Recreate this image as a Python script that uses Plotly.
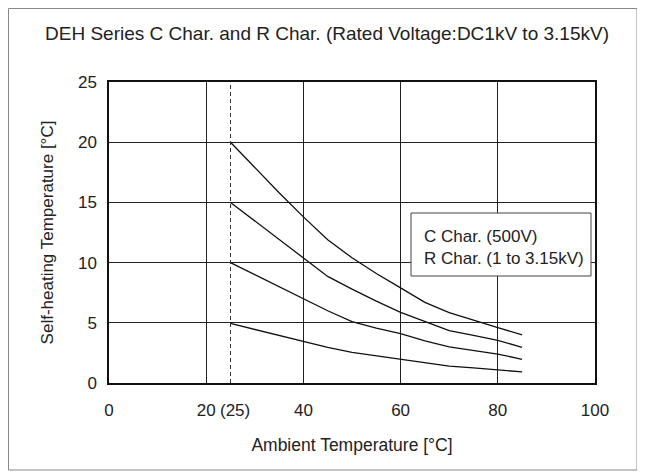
import plotly.graph_objects as go

# ---- data ----
ambient = [25, 30, 35, 40, 45, 50, 55, 60, 65, 70, 75, 80, 85]
curve_20 = [20.0, 17.9, 15.8, 13.8, 11.9, 10.4, 9.1, 7.9, 6.7, 5.85, 5.2, 4.6, 4.0]
curve_15 = [15.0, 13.45, 11.9, 10.35, 8.85, 7.8, 6.8, 5.87, 5.1, 4.35, 3.95, 3.55, 2.96]
curve_10 = [10.0, 9.0, 8.0, 7.0, 6.0, 5.1, 4.55, 4.1, 3.5, 3.0, 2.7, 2.4, 1.97]
curve_5 = [4.95, 4.45, 3.95, 3.45, 2.95, 2.55, 2.25, 1.95, 1.65, 1.4, 1.25, 1.1, 0.92]
rated_ambient = 25
x_ticks = [0, 20, 40, 60, 80, 100]
x_ticktext = ["0", "20", "40", "60", "80", "100"]
y_ticks = [0, 5, 10, 15, 20, 25]
title_text = "DEH Series C Char. and R Char. (Rated Voltage:DC1kV to 3.15kV)"
legend_text = "C Char. (500V)<br>R Char. (1 to 3.15kV)"

FONT = "Arial, 'Liberation Sans', sans-serif"
TXT = "#222222"

L, R, T, B = 101, 58, 74, 98
PW, PH = 645 - L - R, 473 - T - B


def px(xp):
    """figure pixel x -> paper x"""
    return (xp - L) / PW


def py(yp):
    """figure pixel y (from top) -> paper y"""
    return (T + PH - yp) / PH


fig = go.Figure()
for ys in [curve_20, curve_15, curve_10, curve_5]:
    fig.add_trace(go.Scatter(x=ambient, y=ys, mode="lines",
                             line=dict(color="#111111", width=1.3),
                             showlegend=False, hoverinfo="skip"))

fig.update_layout(
    width=645, height=473,
    margin=dict(l=L, r=R, t=T, b=B, autoexpand=False),
    paper_bgcolor="white", plot_bgcolor="white",
    font=dict(family=FONT, size=17, color=TXT),
    title=dict(text=title_text, x=319 / 645, xref="container", xanchor="center",
               y=1 - 25 / 473, yref="container", yanchor="middle",
               font=dict(size=19, family=FONT, color=TXT)),
    showlegend=False,
)
fig.update_xaxes(range=[0, 100], tickvals=x_ticks, ticktext=x_ticktext,
                 showgrid=True, gridcolor="#222222", gridwidth=1,
                 showline=True, linecolor="#111111", linewidth=1.5, mirror=True,
                 zeroline=False, ticks="", ticklabelstandoff=11,
                 title=dict(text="Ambient Temperature [°C]", standoff=20,
                            font=dict(size=17.5, color=TXT)),
                 tickfont=dict(size=17, color=TXT))
fig.update_yaxes(range=[0, 25], tickvals=y_ticks,
                 showgrid=True, gridcolor="#222222", gridwidth=1,
                 showline=True, linecolor="#111111", linewidth=1.5, mirror=True,
                 zeroline=False, ticks="", ticklabelstandoff=7,
                 title=dict(text="Self-heating Temperature [°C]", standoff=20,
                            font=dict(size=17, color=TXT)),
                 tickfont=dict(size=17, color=TXT))

# dashed reference line at rated ambient
fig.add_shape(type="line", xref="x", yref="y", x0=rated_ambient, x1=rated_ambient,
              y0=0, y1=25, line=dict(color="#333333", width=1, dash="4px,3px"))

# "(25)" label next to "20"
fig.add_annotation(xref="x", yref="paper", x=rated_ambient, y=0, yanchor="top",
                   xshift=4, yshift=-16, text="(25)", showarrow=False,
                   font=dict(size=17, color=TXT))

# legend-like box
fig.add_shape(type="rect", xref="paper", yref="paper",
              x0=px(403), x1=px(583), y0=py(268), y1=py(205),
              line=dict(color="#444444", width=1), fillcolor="white", layer="above")
fig.add_annotation(xref="paper", yref="paper", x=px(414), y=py(239.5),
                   xanchor="left", yanchor="middle", align="left",
                   text=legend_text, showarrow=False,
                   font=dict(size=17, color=TXT))

# outer frame
fig.add_shape(type="rect", xref="paper", yref="paper",
              x0=px(0.5), x1=px(629), y0=py(462), y1=py(0.5),
              line=dict(color="#888888", width=1), layer="below")

fig.write_html("out.html")
